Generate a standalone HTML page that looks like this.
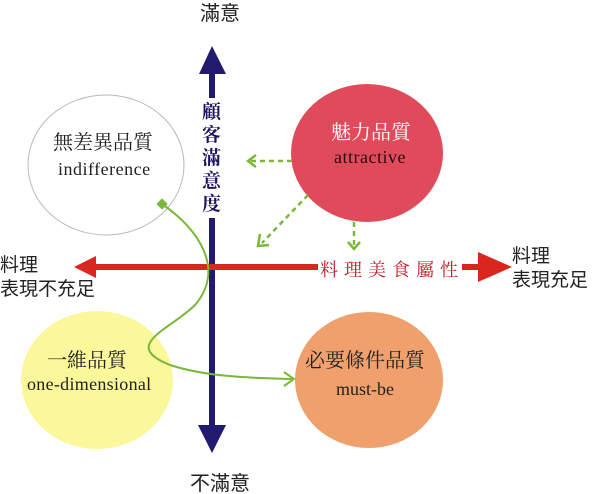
<!DOCTYPE html>
<html><head><meta charset="utf-8"><style>
html,body{margin:0;padding:0;background:#fff;}
svg{display:block;}
text{font-family:"Liberation Serif","Noto Serif CJK SC",serif;}
.cjk{font-family:"Liberation Sans","Noto Sans CJK TC",sans-serif;}
</style></head><body>
<svg width="600" height="494" viewBox="0 0 600 494" xmlns="http://www.w3.org/2000/svg">
<ellipse cx="106" cy="165" rx="78" ry="70" fill="#fff" stroke="#b8b8b8" stroke-width="1"/>
<ellipse cx="367" cy="153" rx="76" ry="69" fill="#e04b5b"/>
<ellipse cx="97" cy="380" rx="76" ry="69" fill="#fbf89c"/>
<ellipse cx="369" cy="380" rx="74" ry="68" fill="#f0a06c"/>
<rect x="209" y="72" width="6" height="26" fill="#211a6e"/>
<rect x="209" y="218" width="6" height="210" fill="#211a6e"/>
<polygon points="212,46 199,74 226,74" fill="#211a6e"/>
<polygon points="212,453 198,425 226,425" fill="#211a6e"/>
<rect x="92" y="264" width="226" height="6" fill="#d9261f"/>
<rect x="462" y="264" width="20" height="6" fill="#d9261f"/>
<polygon points="74,267 96,256 96,278" fill="#d9261f"/>
<polygon points="512,267 478,252 478,282" fill="#d9261f"/>
<path d="M162,204 C200,230 225,270 195,305 C170,330 120,345 170,365 C210,378 260,378 292,379" fill="none" stroke="#7ab83a" stroke-width="2"/>
<rect x="158" y="200" width="8" height="8" fill="#7ab83a" transform="rotate(45 162 204)"/>
<polyline points="284,372 294,379 284,386" fill="none" stroke="#7ab83a" stroke-width="2"/>
<g stroke="#7ab83a" stroke-width="2.5" fill="none" stroke-dasharray="5,4">
<line x1="292" y1="161" x2="250" y2="161"/>
<line x1="308" y1="195" x2="262" y2="243"/>
<line x1="354" y1="222" x2="354" y2="247"/>
</g>
<g stroke="#7ab83a" stroke-width="2.5" fill="none">
<polyline points="256,155 248,161 256,167"/>
<polyline points="260,234 258,246 269,245"/>
<polyline points="348,242 354,249 360,242"/>
</g>
<text class="cjk" x="200" y="20" font-size="20" fill="#222">滿意</text>
<text class="cjk" x="190" y="490" font-size="20" fill="#222">不滿意</text>
<g font-size="19" fill="#1a1460" font-weight="bold">
<text x="202" y="118">顧</text><text x="202" y="141">客</text><text x="202" y="164">滿</text><text x="202" y="187">意</text><text x="202" y="210">度</text>
</g>
<text x="320" y="276" font-size="18" fill="#c0202a" letter-spacing="6">料理美食屬性</text>
<text class="cjk" x="0" y="271" font-size="19" fill="#222">料理</text>
<text class="cjk" x="0" y="295" font-size="19" fill="#222">表現不充足</text>
<text class="cjk" x="512" y="262" font-size="19" fill="#222">料理</text>
<text class="cjk" x="512" y="286" font-size="19" fill="#222">表現充足</text>
<text x="53" y="149" font-size="20" fill="#222">無差異品質</text>
<text x="58" y="175" font-size="18" fill="#222" letter-spacing="0.5">indifference</text>
<text x="331" y="139" font-size="20" fill="#fff">魅力品質</text>
<text x="334" y="163" font-size="18" fill="#2a0a10" letter-spacing="0.5">attractive</text>
<text x="47" y="367" font-size="20" fill="#222">一維品質</text>
<text x="27" y="390" font-size="18" fill="#222" letter-spacing="0.3">one-dimensional</text>
<text x="305" y="367" font-size="20" fill="#222">必要條件品質</text>
<text x="336" y="395" font-size="18" fill="#222">must-be</text>
</svg>
</body></html>
